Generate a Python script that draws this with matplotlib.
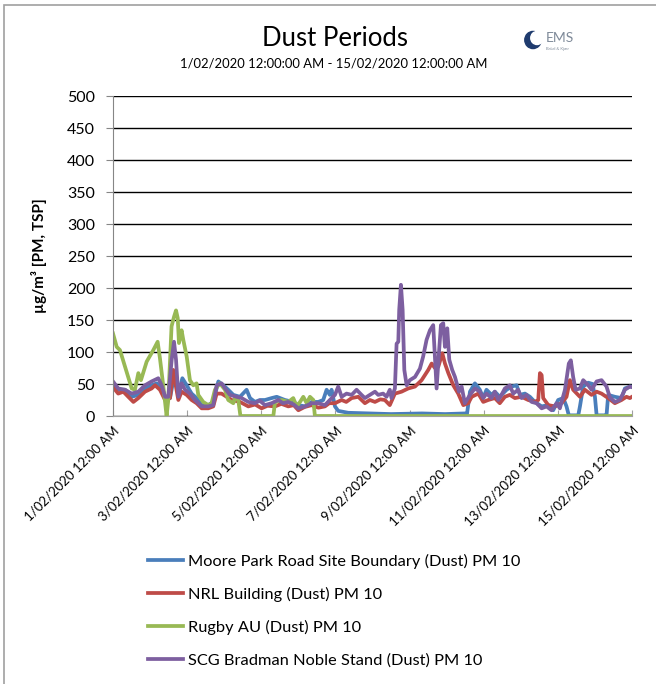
import matplotlib
matplotlib.use("Agg")
import matplotlib.pyplot as plt
from matplotlib.patches import Circle, Rectangle

plt.rcParams["font.family"] = ["Lato", "DejaVu Sans"]

# 时间 (小时, 从 1/02/2020 00:00 开始)
moore_t = [0, 3.4, 7.8, 12.1, 16.4, 20.7, 25, 28.3, 31.5, 33.7, 36.9, 39, 41.2, 42.7, 44.9, 47.7,
           50.9, 54.1, 57.4, 61.7, 64.9, 68.2, 71.4, 74.6, 77.9, 82.2, 86.5, 88.7, 91.9, 95.1,
           98.4, 102.7, 106, 111.3, 116.7, 120, 124.3, 128.6, 132.9, 136.1, 138.3, 140.4, 141.5,
           143.7, 145.8, 152.3, 166.3, 180, 200, 215, 227.8, 229, 231.1, 234.3, 237.5, 239.7,
           241.8, 245.1, 247.2, 250.4, 254.8, 258, 261.3, 263.4, 266.7, 269.9, 273.1, 277.5,
           281.8, 285, 288.2, 291.5, 293.6, 295.1, 299, 301.2, 302.3, 304.4, 307.7, 310.5, 312,
           313.1, 318.4, 319.5, 320.6, 324.9, 329.2, 331.4, 334.6, 336]
moore_v = [48, 41, 41, 30, 33, 43, 48, 51, 46, 30, 28, 55, 46, 38, 59, 48,
           35, 28, 17, 17, 22, 54, 48, 41, 33, 30, 41, 28, 22, 25,
           25, 28, 30, 25, 22, 17, 15, 22, 22, 25, 41, 33, 41,
           15, 8, 5, 4, 3, 4, 3, 4, 0, 38, 51, 41, 28,
           41, 33, 38, 30, 41, 46, 48, 33, 35, 30, 22, 15,
           17, 9, 25, 28, 15, 1, 1, 1, 15, 46, 52, 50, 30,
           1, 1, 1, 33, 30, 28, 43, 46, 46]

nrl_t = [0, 3.4, 6.7, 9.9, 13.2, 16.4, 20.7, 25, 27.2, 30.4, 33.7, 36.9, 39, 40.6, 42.3, 44.4,
         47.7, 50.9, 54.1, 57.4, 61.7, 64.9, 67.1, 70.3, 73.6, 76.8, 82.2, 87.6, 92, 96.2,
         100, 104.9, 109, 113.5, 117, 120, 124, 128.6, 133, 137.2, 140, 143.7, 148, 151,
         154.5, 158.8, 163.1, 166.3, 169.6, 173, 176, 179.2, 182.5, 186.8, 191.1, 195.5,
         199.8, 204.1, 206.3, 208.4, 210.6, 213.2, 214.9, 217.1, 220.3, 223.5, 226.8, 230,
         232.2, 236.5, 239.7, 242.9, 247.2, 250.4, 253.7, 256.9, 260.2, 264.5, 268.8, 273.1,
         275.3, 276.4, 277.5, 278.5, 281.8, 286.1, 290.4, 293.6, 295.8, 297.9, 302.3, 305.5,
         309.8, 313.1, 316.3, 320.6, 324.9, 329.2, 332.4, 334.6, 336]
nrl_v = [45, 35, 38, 30, 22, 28, 38, 43, 48, 41, 25, 28, 72, 48, 25, 38,
         33, 25, 20, 12, 12, 15, 35, 35, 30, 25, 22, 15, 18, 12,
         16, 15, 19, 15, 17, 9, 14, 17, 13, 15, 20, 20, 25, 22,
         28, 30, 20, 25, 22, 26, 25, 17, 35, 38, 43, 46,
         56, 72, 82, 75, 77, 98, 82, 67, 48, 35, 17, 20,
         30, 35, 22, 25, 28, 20, 30, 33, 28, 30, 25, 22,
         25, 67, 64, 28, 17, 15, 20, 30, 56, 41, 30, 41,
         33, 38, 35, 28, 20, 25, 30, 28, 30]

rugby_t = [0, 2.4, 4.5, 12.1, 14.2, 16.4, 18.1, 21.8, 26.1, 28.9, 30.4, 32.6, 34.7, 35.8, 37.9,
           39.5, 40.8, 41.9, 42.7, 44.4, 45.5, 47.7, 49.8, 52, 54.1, 55.2, 58.4, 61.7, 63.8, 66,
           69.2, 72.5, 74.6, 77.9, 79, 81.1, 82.5, 103.8, 104.9, 109.2, 113.5, 116.7, 118.9,
           121.1, 123.2, 125.4, 127.5, 129.7, 130.7, 336]
rugby_v = [129, 108, 103, 43, 41, 67, 56, 85, 103, 116, 90, 46, 0, 25, 140,
           155, 165, 153, 114, 134, 119, 93, 56, 48, 51, 33, 22, 17, 20, 41,
           51, 41, 25, 20, 28, 25, 0, 0, 22, 25, 22, 28, 15,
           22, 30, 20, 30, 25, 0, 0]

scg_t = [0, 3.4, 7.8, 12.1, 16.4, 20.7, 25, 29.3, 31.5, 33.7, 35.8, 38, 39.5, 40.8, 42.3, 44.4,
         46.6, 49.8, 53, 57.4, 61.7, 64.9, 67.1, 70.3, 72.5, 75.7, 80, 83.3, 87.6, 91.9, 95,
         98.4, 102.7, 107, 110, 113.5, 117, 120, 124.3, 128.6, 132.9, 137.2, 140.4, 143.7,
         145.8, 148, 151.2, 154.5, 157.7, 160.9, 163.1, 166.3, 169.6, 171.7, 174.9, 177.1,
         179.2, 180.3, 182.5, 183.6, 184.7, 185.3, 186.4, 187.5, 188.6, 190.1, 192.2, 195.5,
         198.7, 200.8, 203, 205.2, 207.3, 208.4, 209.5, 211, 212.3, 213.8, 214.9, 216.4, 217.7,
         219.6, 221.4, 224, 225.7, 227.8, 231.1, 234.3, 237.5, 239.7, 241.8, 245.1, 247.2,
         249.4, 251.5, 253.7, 256.9, 259.1, 262.3, 264.5, 267.7, 271, 274.2, 277.5, 280.7,
         283.9, 287.2, 289.3, 292.6, 295.1, 296.4, 297.9, 299.5, 302.3, 304.4, 307.7, 309.8,
         313.1, 316.3, 319.5, 321.7, 324.9, 328.1, 331.4, 334.6, 336]
scg_v = [54, 43, 41, 35, 38, 48, 54, 59, 48, 30, 30, 88, 116, 88, 30, 51,
         41, 35, 25, 15, 15, 17, 48, 51, 43, 33, 30, 28, 22, 20, 24,
         17, 20, 25, 20, 22, 18, 12, 15, 20, 20, 17, 25, 33,
         46, 30, 35, 33, 41, 33, 28, 33, 38, 33, 35, 30,
         41, 28, 43, 113, 116, 166, 205, 166, 72, 48, 56, 61,
         74, 93, 119, 134, 142, 93, 43, 98, 142, 145, 108, 137, 88,
         72, 61, 38, 46, 20, 33, 43, 38, 28, 35, 28, 38,
         25, 33, 43, 48, 35, 41, 28, 33, 22, 20, 12, 15,
         9, 20, 12, 41, 82, 87, 61, 41, 43, 56, 48, 41,
         54, 56, 46, 29, 22, 25, 41, 46, 45]

series_names = ["Moore Park Road Site Boundary (Dust) PM 10", "NRL Building (Dust) PM 10",
                "Rugby AU (Dust) PM 10", "SCG Bradman Noble Stand (Dust) PM 10"]
series_colors = ["#4a7ebb", "#be4b48", "#98b954", "#7d5fa0"]

x_ticks = [0, 48, 96, 144, 192, 240, 288, 336]
x_labels = ["1/02/2020 12:00 AM", "3/02/2020 12:00 AM", "5/02/2020 12:00 AM", "7/02/2020 12:00 AM",
            "9/02/2020 12:00 AM", "11/02/2020 12:00 AM", "13/02/2020 12:00 AM", "15/02/2020 12:00 AM"]
y_ticks = list(range(0, 501, 50))

fig = plt.figure(figsize=(6.56, 6.84), dpi=100)
ax = fig.add_axes([113 / 656, 1 - 416 / 684, 519 / 656, 320 / 684])

# 外框
fig.patches.append(Rectangle((4 / 656, -0.1), 1.2, 1 - 5 / 684 + 0.1, transform=fig.transFigure,
                             fill=False, edgecolor="#a0a0a0", linewidth=1.2))

data = [(moore_t, moore_v), (nrl_t, nrl_v), (rugby_t, rugby_v), (scg_t, scg_v)]
for (t, v), name, c in zip(data, series_names, series_colors):
    ax.plot(t, v, color=c, linewidth=2.7, label=name, solid_joinstyle="round")

ax.set_xlim(0, 336)
ax.set_ylim(0, 500)
ax.set_yticks(y_ticks)
ax.set_xticks(x_ticks)
ax.set_xticklabels(x_labels, rotation=45, ha="right", rotation_mode="anchor", fontsize=9.5)
ax.tick_params(axis="y", labelsize=11.5, length=5, color="#868686", direction="out", pad=8)
ax.tick_params(axis="x", length=4, color="#a0a0a0", direction="in", pad=6)
ax.grid(axis="y", color="black", linewidth=1.0)
ax.set_axisbelow(True)
for s in ["top", "right"]:
    ax.spines[s].set_visible(False)
ax.spines["left"].set_color("#868686")
ax.spines["bottom"].set_color("#a0a0a0")
ax.set_ylabel("µg/m³ [PM, TSP]", fontsize=11, fontweight="bold", labelpad=14)

fig.text(335 / 656, 1 - 38 / 684, "Dust Periods", ha="center", va="center", fontsize=18.5)
fig.text(334 / 656, 1 - 63 / 684, "1/02/2020 12:00:00 AM - 15/02/2020 12:00:00 AM",
         ha="center", va="center", fontsize=9.4)

# 标志
fig.patches.append(Circle((533 / 656, 1 - 40 / 684), 0.0125, transform=fig.transFigure,
                          color="#1f3b6e"))
fig.patches.append(Circle((537 / 656, 1 - 38 / 684), 0.0095, transform=fig.transFigure,
                          color="white"))
fig.text(546 / 656, 1 - 38 / 684, "EMS", ha="left", va="center", fontsize=10, color="#7f8a99")
fig.text(546 / 656, 1 - 49 / 684, "Brüel & Kjær", ha="left", va="center", fontsize=3,
         color="#7f8a99")

fig.legend(loc="upper left", bbox_to_anchor=(133 / 656, 1 - 539 / 684), frameon=False,
           fontsize=11.8, handlelength=2.15, handletextpad=0.3, labelspacing=1.1)

plt.savefig("out.png", dpi=100)
